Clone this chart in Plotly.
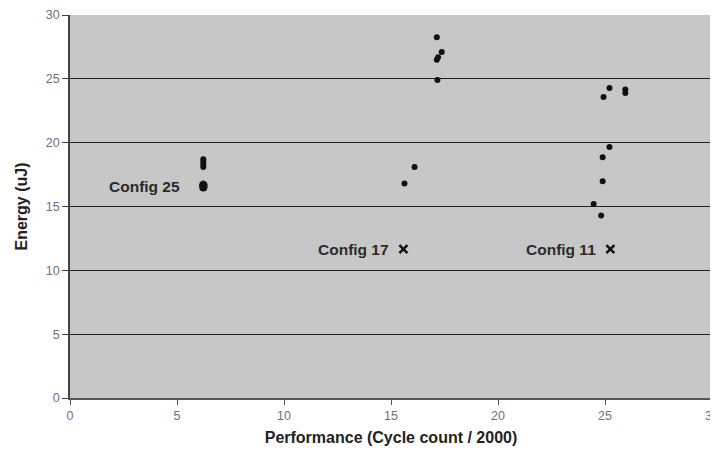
import plotly.graph_objects as go

# Data
dots_x = [6.23, 6.23, 6.23, 6.23,
          17.14, 17.37, 17.14, 17.20, 17.17, 16.10, 15.63,
          25.21, 24.93, 25.95, 25.95, 25.21, 24.89, 24.89, 24.47, 24.82]
dots_y = [18.7, 18.5, 18.3, 18.1,
          28.26, 27.1, 26.5, 26.7, 24.9, 18.1, 16.8,
          24.29, 23.58, 24.16, 23.9, 19.66, 18.85, 16.97, 15.2, 14.3]

star_x = [6.23, 6.23]
star_y = [16.7, 16.5]

cross_x = [15.58, 25.25]
cross_y = [11.66, 11.66]

labels = ["Config 25", "Config 17", "Config 11"]
label_x = [6.23, 15.58, 25.25]
label_y = [16.6, 11.66, 11.66]
label_gap = [-21, -12, -12]

x_ticks = [0, 5, 10, 15, 20, 25, 30]
y_ticks = [0, 5, 10, 15, 20, 25, 30]

fig = go.Figure()
fig.add_trace(go.Scatter(x=dots_x, y=dots_y, mode="markers",
                         marker=dict(symbol="circle", size=6, color="#111111"),
                         showlegend=False, hoverinfo="skip"))
fig.add_trace(go.Scatter(x=star_x, y=star_y, mode="markers",
                         marker=dict(symbol="asterisk-open", size=7, color="#111111",
                                     line=dict(width=2.5, color="#111111")),
                         showlegend=False, hoverinfo="skip"))
fig.add_trace(go.Scatter(x=cross_x, y=cross_y, mode="markers",
                         marker=dict(symbol="x-thin-open", size=8, color="#111111",
                                     line=dict(width=2.5, color="#111111")),
                         showlegend=False, hoverinfo="skip"))

for t, lx, ly, g in zip(labels, label_x, label_y, label_gap):
    fig.add_annotation(x=lx, y=ly, text="<b>" + t + "</b>", showarrow=False,
                       xanchor="right", xshift=g,
                       font=dict(family="Liberation Sans, Arial", size=15.5,
                                 color="#2a2a2a"))

# page body adds an 8px offset, so the figure is sized to fit inside the window
fig.update_layout(
    width=710, height=456,
    margin=dict(l=62, r=6, t=7, b=66),
    paper_bgcolor="white",
    plot_bgcolor="#c7c7c7",
    font=dict(family="Liberation Sans, Arial", size=12, color="#555555"),
    xaxis=dict(range=[0, 30], tickvals=x_ticks, showgrid=False, zeroline=False,
               automargin=False, ticklabeloverflow="allow",
               showline=True, linecolor="#555555", linewidth=1.5,
               ticks="outside", ticklen=5, tickcolor="#555555",
               tickfont=dict(size=12.5, color="#707070"),
               title=dict(text="<b>Performance (Cycle count / 2000)</b>",
                          font=dict(size=16, color="#222222"), standoff=10)),
    yaxis=dict(range=[0, 30], tickvals=y_ticks, showgrid=True, gridcolor="#222222",
               gridwidth=1, zeroline=False, automargin=False,
               showline=True, linecolor="#444444", linewidth=1.5,
               ticks="outside", ticklen=6, tickcolor="#444444",
               tickfont=dict(size=12.5, color="#707070"),
               title=dict(text="<b>Energy (uJ)</b>",
                          font=dict(size=16, color="#222222"), standoff=14)),
)

fig.write_html("out.html")
